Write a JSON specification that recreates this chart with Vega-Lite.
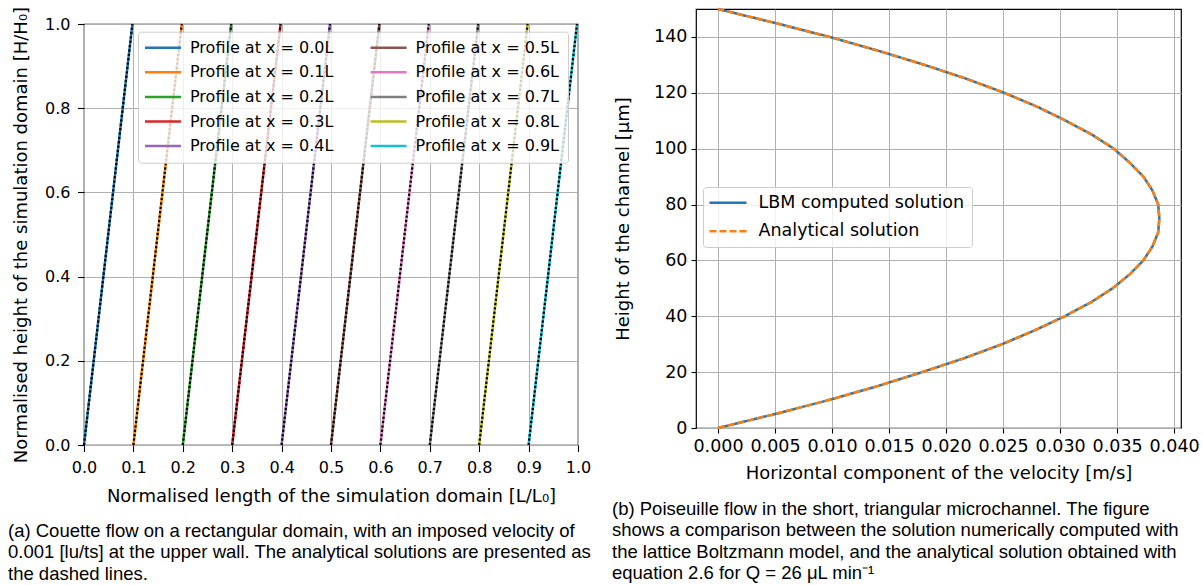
{
  "$schema": "https://vega.github.io/schema/vega-lite/v6.json",
  "padding": {"left": 7, "top": 3, "right": 0, "bottom": 0},
  "background": "white",
  "spacing": 19,
  "datasets": {
    "couette": [
      {"source": "LBM", "profile": "0.0", "x": 0.0, "y": 0}, {"source": "LBM", "profile": "0.0", "x": 0.098, "y": 1},
      {"source": "LBM", "profile": "0.1", "x": 0.1, "y": 0}, {"source": "LBM", "profile": "0.1", "x": 0.198, "y": 1},
      {"source": "LBM", "profile": "0.2", "x": 0.2, "y": 0}, {"source": "LBM", "profile": "0.2", "x": 0.298, "y": 1},
      {"source": "LBM", "profile": "0.3", "x": 0.3, "y": 0}, {"source": "LBM", "profile": "0.3", "x": 0.398, "y": 1},
      {"source": "LBM", "profile": "0.4", "x": 0.4, "y": 0}, {"source": "LBM", "profile": "0.4", "x": 0.498, "y": 1},
      {"source": "LBM", "profile": "0.5", "x": 0.5, "y": 0}, {"source": "LBM", "profile": "0.5", "x": 0.598, "y": 1},
      {"source": "LBM", "profile": "0.6", "x": 0.6, "y": 0}, {"source": "LBM", "profile": "0.6", "x": 0.698, "y": 1},
      {"source": "LBM", "profile": "0.7", "x": 0.7, "y": 0}, {"source": "LBM", "profile": "0.7", "x": 0.798, "y": 1},
      {"source": "LBM", "profile": "0.8", "x": 0.8, "y": 0}, {"source": "LBM", "profile": "0.8", "x": 0.898, "y": 1},
      {"source": "LBM", "profile": "0.9", "x": 0.9, "y": 0}, {"source": "LBM", "profile": "0.9", "x": 0.998, "y": 1},
      {"source": "Analytical", "profile": "0.0", "x": 0.0, "y": 0}, {"source": "Analytical", "profile": "0.0", "x": 0.098, "y": 1},
      {"source": "Analytical", "profile": "0.1", "x": 0.1, "y": 0}, {"source": "Analytical", "profile": "0.1", "x": 0.198, "y": 1},
      {"source": "Analytical", "profile": "0.2", "x": 0.2, "y": 0}, {"source": "Analytical", "profile": "0.2", "x": 0.298, "y": 1},
      {"source": "Analytical", "profile": "0.3", "x": 0.3, "y": 0}, {"source": "Analytical", "profile": "0.3", "x": 0.398, "y": 1},
      {"source": "Analytical", "profile": "0.4", "x": 0.4, "y": 0}, {"source": "Analytical", "profile": "0.4", "x": 0.498, "y": 1},
      {"source": "Analytical", "profile": "0.5", "x": 0.5, "y": 0}, {"source": "Analytical", "profile": "0.5", "x": 0.598, "y": 1},
      {"source": "Analytical", "profile": "0.6", "x": 0.6, "y": 0}, {"source": "Analytical", "profile": "0.6", "x": 0.698, "y": 1},
      {"source": "Analytical", "profile": "0.7", "x": 0.7, "y": 0}, {"source": "Analytical", "profile": "0.7", "x": 0.798, "y": 1},
      {"source": "Analytical", "profile": "0.8", "x": 0.8, "y": 0}, {"source": "Analytical", "profile": "0.8", "x": 0.898, "y": 1},
      {"source": "Analytical", "profile": "0.9", "x": 0.9, "y": 0}, {"source": "Analytical", "profile": "0.9", "x": 0.998, "y": 1}
    ],
    "poiseuille": [
      {"series": "LBM computed solution", "h": 0, "u": 0.0},
      {"series": "LBM computed solution", "h": 5, "u": 0.005},
      {"series": "LBM computed solution", "h": 10, "u": 0.0097},
      {"series": "LBM computed solution", "h": 15, "u": 0.014},
      {"series": "LBM computed solution", "h": 20, "u": 0.0179},
      {"series": "LBM computed solution", "h": 25, "u": 0.0216},
      {"series": "LBM computed solution", "h": 30, "u": 0.0249},
      {"series": "LBM computed solution", "h": 35, "u": 0.0278},
      {"series": "LBM computed solution", "h": 40, "u": 0.0304},
      {"series": "LBM computed solution", "h": 45, "u": 0.0327},
      {"series": "LBM computed solution", "h": 50, "u": 0.0346},
      {"series": "LBM computed solution", "h": 55, "u": 0.0361},
      {"series": "LBM computed solution", "h": 60, "u": 0.0373},
      {"series": "LBM computed solution", "h": 65, "u": 0.0381},
      {"series": "LBM computed solution", "h": 70, "u": 0.0386},
      {"series": "LBM computed solution", "h": 75, "u": 0.0387},
      {"series": "LBM computed solution", "h": 80, "u": 0.0386},
      {"series": "LBM computed solution", "h": 85, "u": 0.0381},
      {"series": "LBM computed solution", "h": 90, "u": 0.0373},
      {"series": "LBM computed solution", "h": 95, "u": 0.0361},
      {"series": "LBM computed solution", "h": 100, "u": 0.0347},
      {"series": "LBM computed solution", "h": 105, "u": 0.0328},
      {"series": "LBM computed solution", "h": 110, "u": 0.0305},
      {"series": "LBM computed solution", "h": 115, "u": 0.028},
      {"series": "LBM computed solution", "h": 120, "u": 0.0251},
      {"series": "LBM computed solution", "h": 125, "u": 0.0218},
      {"series": "LBM computed solution", "h": 130, "u": 0.0181},
      {"series": "LBM computed solution", "h": 135, "u": 0.0141},
      {"series": "LBM computed solution", "h": 140, "u": 0.0098},
      {"series": "LBM computed solution", "h": 145, "u": 0.005},
      {"series": "LBM computed solution", "h": 150, "u": 0.0},
      {"series": "Analytical solution", "h": 0, "u": 0.0},
      {"series": "Analytical solution", "h": 5, "u": 0.005},
      {"series": "Analytical solution", "h": 10, "u": 0.0097},
      {"series": "Analytical solution", "h": 15, "u": 0.014},
      {"series": "Analytical solution", "h": 20, "u": 0.0179},
      {"series": "Analytical solution", "h": 25, "u": 0.0216},
      {"series": "Analytical solution", "h": 30, "u": 0.0249},
      {"series": "Analytical solution", "h": 35, "u": 0.0278},
      {"series": "Analytical solution", "h": 40, "u": 0.0304},
      {"series": "Analytical solution", "h": 45, "u": 0.0327},
      {"series": "Analytical solution", "h": 50, "u": 0.0346},
      {"series": "Analytical solution", "h": 55, "u": 0.0361},
      {"series": "Analytical solution", "h": 60, "u": 0.0373},
      {"series": "Analytical solution", "h": 65, "u": 0.0381},
      {"series": "Analytical solution", "h": 70, "u": 0.0386},
      {"series": "Analytical solution", "h": 75, "u": 0.0387},
      {"series": "Analytical solution", "h": 80, "u": 0.0386},
      {"series": "Analytical solution", "h": 85, "u": 0.0381},
      {"series": "Analytical solution", "h": 90, "u": 0.0373},
      {"series": "Analytical solution", "h": 95, "u": 0.0361},
      {"series": "Analytical solution", "h": 100, "u": 0.0347},
      {"series": "Analytical solution", "h": 105, "u": 0.0328},
      {"series": "Analytical solution", "h": 110, "u": 0.0305},
      {"series": "Analytical solution", "h": 115, "u": 0.028},
      {"series": "Analytical solution", "h": 120, "u": 0.0251},
      {"series": "Analytical solution", "h": 125, "u": 0.0218},
      {"series": "Analytical solution", "h": 130, "u": 0.0181},
      {"series": "Analytical solution", "h": 135, "u": 0.0141},
      {"series": "Analytical solution", "h": 140, "u": 0.0098},
      {"series": "Analytical solution", "h": 145, "u": 0.005},
      {"series": "Analytical solution", "h": 150, "u": 0.0}
    ]
  },
  "hconcat": [
    {
      "vconcat": [
        {
          "width": 494,
          "height": 1,
          "data": {"values": []},
          "mark": "rect",
          "view": {"stroke": null}
        },
        {
          "width": 494,
          "height": 421,
          "title": {
            "text": ["(a) Couette flow on a rectangular domain, with an imposed velocity of", "0.001 [lu/ts] at the upper wall. The analytical solutions are presented as", "the dashed lines."],
            "dx": -76,
            "offset": 16
          },
          "data": {"name": "couette"},
          "encoding": {
            "x": {
              "field": "x", "type": "quantitative",
              "scale": {"domain": [0, 1], "nice": false, "zero": false},
              "axis": {"values": [0, 0.1, 0.2, 0.3, 0.4, 0.5, 0.6, 0.7, 0.8, 0.9, 1.0], "format": ".1f", "title": "Normalised length of the simulation domain [L/L₀]", "labelFontSize": 16, "titleFontSize": 18, "tickSize": 6.5, "labelPadding": 8, "titlePadding": 12}
            },
            "y": {
              "field": "y", "type": "quantitative",
              "scale": {"domain": [0, 1], "nice": false, "zero": false},
              "axis": {"values": [0, 0.2, 0.4, 0.6, 0.8, 1.0], "format": ".1f", "title": "Normalised height of the simulation domain [H/H₀]", "labelFontSize": 16, "titleFontSize": 18, "tickSize": 6.5, "labelPadding": 7.5, "titlePadding": 14}
            }
          },
          "layer": [
            {
              "transform": [{"filter": "datum.source === 'LBM'"}],
              "mark": {"type": "line", "strokeWidth": 2.5},
              "encoding": {
                "color": {
                  "field": "profile", "type": "nominal",
                  "scale": {
                    "domain": ["0.0", "0.1", "0.2", "0.3", "0.4", "0.5", "0.6", "0.7", "0.8", "0.9"],
                    "range": ["#1f77b4", "#ff7f0e", "#2ca02c", "#d62728", "#9467bd", "#8c564b", "#e377c2", "#7f7f7f", "#bcbd22", "#17becf"]
                  },
                  "legend": {
                    "orient": "none", "legendX": 54, "legendY": 22.7, "columns": 2, "title": null,
                    "labelExpr": "'Profile at x = ' + datum.label + 'L'",
                    "symbolType": "M-1.5,0H4.5", "symbolSize": 144, "symbolStrokeWidth": 2.5,
                    "labelOffset": 28, "labelFontSize": 16, "labelFont": "DejaVu Sans", "labelColor": "#000", "labelLimit": 300,
                    "rowPadding": 8.6, "columnPadding": 31.6, "padding": 8,
                    "fillColor": "rgba(255,255,255,0.8)", "strokeColor": "#cccccc", "cornerRadius": 3
                  }
                }
              }
            },
            {
              "transform": [{"filter": "datum.source === 'Analytical'"}],
              "mark": {"type": "line", "strokeWidth": 2.2, "color": "#000", "strokeDash": [2.2, 2.2]},
              "encoding": {"detail": {"field": "profile", "type": "nominal"}}
            }
          ]
        }
      ],
      "spacing": 14,
      "bounds": "flush"
    },
    {
      "width": 485,
      "height": 419,
      "title": {
        "text": ["(b) Poiseuille flow in the short, triangular microchannel.  The figure", "shows a comparison between the solution numerically computed with", "the lattice Boltzmann model, and the analytical solution obtained with", "equation 2.6 for Q = 26 μL min⁻¹"],
        "dx": -84,
        "offset": 17.5
      },
      "data": {"name": "poiseuille"},
      "encoding": {
        "x": {
          "field": "u", "type": "quantitative",
          "scale": {"domain": [-0.00193, 0.0406], "nice": false, "zero": false},
          "axis": {"values": [0, 0.005, 0.01, 0.015, 0.02, 0.025, 0.03, 0.035, 0.04], "format": ".3f", "title": "Horizontal component of the velocity [m/s]", "labelFontSize": 17.5, "titleFontSize": 18, "tickSize": 5, "labelPadding": 4, "titlePadding": 9.5}
        },
        "y": {
          "field": "h", "type": "quantitative",
          "scale": {"domain": [0, 150], "nice": false, "zero": false},
          "axis": {"values": [0, 20, 40, 60, 80, 100, 120, 140], "format": "d", "title": "Height of the channel [μm]", "labelFontSize": 17.5, "titleFontSize": 18, "tickSize": 5, "labelPadding": 4, "titlePadding": 21}
        },
        "order": {"field": "h", "type": "quantitative"},
        "color": {
          "field": "series", "type": "nominal",
          "scale": {"domain": ["LBM computed solution", "Analytical solution"], "range": ["#1f77b4", "#ff7f0e"]},
          "legend": {
            "orient": "none", "legendX": 7, "legendY": 178, "title": null,
            "symbolType": "M-1.5,0H4.5", "symbolSize": 152, "symbolStrokeWidth": 2.5,
            "labelOffset": 31, "labelFontSize": 17.5, "labelFont": "DejaVu Sans", "labelColor": "#000", "labelLimit": 400,
            "rowPadding": 9.5, "padding": 7,
            "fillColor": "rgba(255,255,255,0.8)", "strokeColor": "#cccccc", "cornerRadius": 3
          }
        },
        "strokeDash": {
          "field": "series", "type": "nominal",
          "scale": {"domain": ["LBM computed solution", "Analytical solution"], "range": [[1, 0], [7, 3]]},
          "legend": {
            "orient": "none", "legendX": 7, "legendY": 178, "title": null,
            "symbolType": "M-1.5,0H4.5", "symbolSize": 152, "symbolStrokeWidth": 2.5,
            "labelOffset": 31, "labelFontSize": 17.5, "labelFont": "DejaVu Sans", "labelColor": "#000", "labelLimit": 400,
            "rowPadding": 9.5, "padding": 7,
            "fillColor": "rgba(255,255,255,0.8)", "strokeColor": "#cccccc", "cornerRadius": 3
          }
        }
      },
      "layer": [
        {
          "transform": [{"filter": "datum.series === 'LBM computed solution'"}],
          "mark": {"type": "line", "strokeWidth": 2.5}
        },
        {
          "transform": [{"filter": "datum.series === 'Analytical solution'"}],
          "mark": {"type": "line", "strokeWidth": 2.5}
        }
      ]
    }
  ],
  "resolve": {
    "scale": {"color": "independent", "strokeDash": "independent", "x": "independent", "y": "independent"},
    "legend": {"color": "independent", "strokeDash": "independent"}
  },
  "config": {
    "font": "DejaVu Sans",
    "view": {"stroke": "#000", "strokeWidth": 1.2},
    "axis": {
      "domain": false, "grid": true, "gridColor": "#b0b0b0", "gridWidth": 1,
      "tickColor": "#000", "tickWidth": 1.1,
      "labelColor": "#000", "titleColor": "#000", "labelFont": "DejaVu Sans", "titleFont": "DejaVu Sans",
      "titleFontWeight": "normal", "labelFlush": false, "labelOverlap": false
    },
    "title": {
      "font": "Liberation Sans", "fontSize": 18.5, "fontWeight": "normal", "color": "#000",
      "lineHeight": 21.5, "anchor": "start", "frame": "group", "orient": "bottom"
    }
  }
}
